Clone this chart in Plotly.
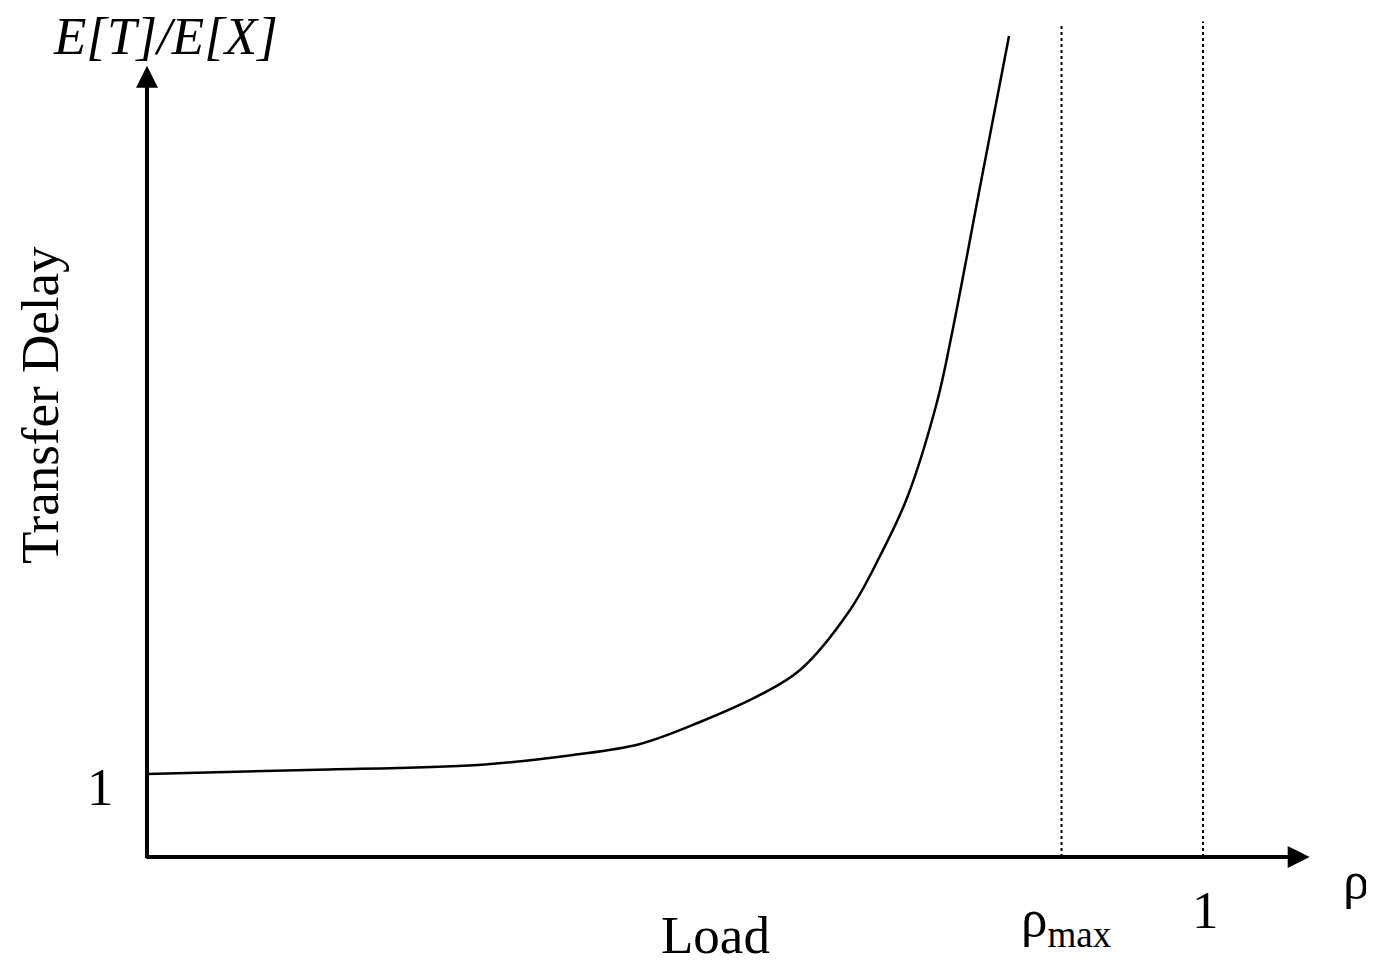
import plotly.graph_objects as go

# Data (load rho, normalized delay E[T]/E[X])
load = [0.0, 0.1515, 0.3134, 0.4034, 0.4669, 0.5237, 0.5805, 0.6184, 0.6657,
        0.6941, 0.7197, 0.7481, 0.7614, 0.7888, 0.8163]
delay = [1.012, 1.061, 1.122, 1.244, 1.378, 1.646, 1.976, 2.280, 3.012,
         3.671, 4.378, 5.549, 6.329, 8.171, 10.012]
rho_max = 0.866
rho_one = 1.0
x_axis_end = 1.101
y_axis_end = 9.65
vline_top = [10.15, 10.19]

FONT = "Liberation Serif"
W, H = 1366, 955
OFF = 8  # page body margin

fig = go.Figure()
fig.add_trace(go.Scatter(x=load, y=delay, mode="lines",
                         line=dict(color="black", width=2.5, shape="spline", smoothing=1.0),
                         hoverinfo="skip", showlegend=False))
for xv, top in zip([rho_max, rho_one], vline_top):
    fig.add_trace(go.Scatter(x=[xv, xv], y=[0, top], mode="lines",
                             line=dict(color="black", width=2, dash="dot"),
                             hoverinfo="skip", showlegend=False))

# axes with arrows
fig.add_annotation(x=x_axis_end, y=0, ax=-0.002, ay=0, xref="x", yref="y", axref="x", ayref="y",
                   showarrow=True, arrowhead=2, arrowsize=1.1, arrowwidth=4, arrowcolor="black", text="")
fig.add_annotation(x=0, y=y_axis_end, ax=0, ay=-0.03, xref="x", yref="y", axref="x", ayref="y",
                   showarrow=True, arrowhead=2, arrowsize=1.1, arrowwidth=4, arrowcolor="black", text="")

def txt(px, py, t, size=53, **kw):
    fig.add_annotation(x=(px - OFF) / W, y=1 - (py - OFF) / H, xref="paper", yref="paper",
                       text=t, showarrow=False, font=dict(family=FONT, size=size, color="black"),
                       xanchor="center", yanchor="middle", **kw)

txt(165, 36, "<i>E[T]/E[X]</i>")
txt(40, 405, "Transfer Delay", textangle=-90)
txt(715, 935, "Load")
txt(1356, 880, "ρ")
txt(1066, 922, "ρ<sub>max</sub>")
txt(1205, 910, "1")
txt(100, 787, "1")

fig.update_layout(
    width=W, height=H, margin=dict(l=0, r=0, t=0, b=0),
    paper_bgcolor="white", plot_bgcolor="white",
    xaxis=dict(range=[-0.1316, 1.1619], visible=False, fixedrange=True),
    yaxis=dict(range=[-1.2927, 10.354], visible=False, fixedrange=True),
)
fig.write_html("out.html")
